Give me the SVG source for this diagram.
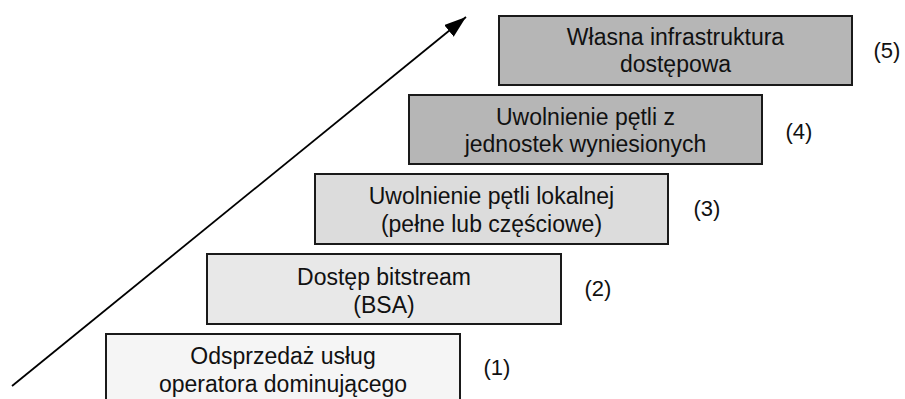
<svg xmlns="http://www.w3.org/2000/svg" width="905" height="399" viewBox="0 0 905 399">
  <style>
    .box { stroke: #1a1a1a; stroke-width: 2; }
    .txt { font-family: "Liberation Sans", Arial, sans-serif; font-size: 23px; fill: #111; text-anchor: middle; }
    .num { font-family: "Liberation Sans", Arial, sans-serif; font-size: 22px; fill: #111; text-anchor: middle; }
    .arrow { stroke: #000; stroke-width: 1.8; fill: none; }
  </style>
  <defs>
    <marker id="head" markerUnits="userSpaceOnUse" markerWidth="24" markerHeight="16" refX="22" refY="7.5" orient="auto">
      <path d="M0,0 L22,7.5 L0,15 Z" fill="#000"/>
    </marker>
  </defs>
  <rect width="905" height="399" fill="#fff"/>

  <g id="connectors">
    <line class="arrow" x1="12" y1="386" x2="466" y2="17" marker-end="url(#head)"/>
  </g>

  <g id="step1">
    <rect class="box" x="106" y="334" width="354" height="72" fill="#f5f5f5"/>
    <text class="txt" x="283" y="364">Odsprzedaż usług</text>
    <text class="txt" x="283" y="392">operatora dominującego</text>
    <text class="num" x="497" y="374.5">(1)</text>
  </g>

  <g id="step2">
    <rect class="box" x="207" y="254" width="354" height="70" fill="#e8e8e8"/>
    <text class="txt" x="384" y="285">Dostęp bitstream</text>
    <text class="txt" x="384" y="313">(BSA)</text>
    <text class="num" x="598" y="295.5">(2)</text>
  </g>

  <g id="step3">
    <rect class="box" x="315" y="174" width="353" height="70" fill="#dcdcdc"/>
    <text class="txt" x="491.5" y="204">Uwolnienie pętli lokalnej</text>
    <text class="txt" x="491.5" y="232">(pełne lub częściowe)</text>
    <text class="num" x="707" y="216">(3)</text>
  </g>

  <g id="step4">
    <rect class="box" x="409" y="95" width="353" height="69" fill="#b6b6b6"/>
    <text class="txt" x="585.5" y="125">Uwolnienie pętli z</text>
    <text class="txt" x="585.5" y="152">jednostek wyniesionych</text>
    <text class="num" x="799" y="139">(4)</text>
  </g>

  <g id="step5">
    <rect class="box" x="499" y="16" width="353" height="69" fill="#b6b6b6"/>
    <text class="txt" x="675.5" y="45">Własna infrastruktura</text>
    <text class="txt" x="675.5" y="72">dostępowa</text>
    <text class="num" x="887" y="57.5">(5)</text>
  </g>
</svg>
